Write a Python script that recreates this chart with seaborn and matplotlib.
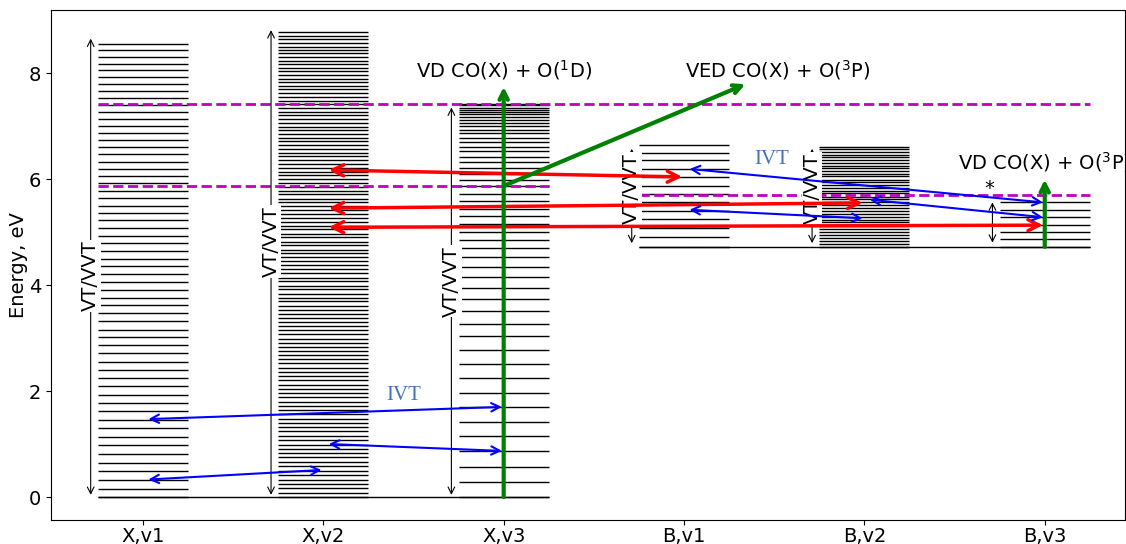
import matplotlib
matplotlib.use("Agg")
import matplotlib.pyplot as plt
import pandas as pd
import seaborn as sns

# x categories (vibrational modes of the X and B states)
modes = ["X,v1", "X,v2", "X,v3", "B,v1", "B,v2", "B,v3"]

# vibrational level energies, eV
x_v1 = [0.00, 0.16, 0.33, 0.49, 0.65, 0.82, 0.98, 1.14, 1.30, 1.46,
        1.62, 1.77, 1.93, 2.09, 2.24, 2.40, 2.55, 2.71, 2.86, 3.01,
        3.16, 3.32, 3.47, 3.62, 3.76, 3.91, 4.06, 4.21, 4.35, 4.50,
        4.64, 4.79, 4.93, 5.07, 5.22, 5.36, 5.50, 5.64, 5.78, 5.92,
        6.06, 6.19, 6.33, 6.47, 6.60, 6.74, 6.87, 7.00, 7.14, 7.27,
        7.40, 7.53, 7.66, 7.79, 7.92, 8.05, 8.17, 8.30, 8.43, 8.55]
x_v2 = [0.00, 0.08, 0.17, 0.25, 0.33, 0.42, 0.50, 0.58, 0.66, 0.75,
        0.83, 0.91, 0.99, 1.07, 1.15, 1.24, 1.32, 1.40, 1.48, 1.56,
        1.64, 1.72, 1.80, 1.88, 1.96, 2.04, 2.12, 2.20, 2.28, 2.36,
        2.44, 2.52, 2.60, 2.68, 2.75, 2.83, 2.91, 2.99, 3.07, 3.15,
        3.22, 3.30, 3.38, 3.46, 3.53, 3.61, 3.69, 3.76, 3.84, 3.92,
        3.99, 4.07, 4.14, 4.22, 4.30, 4.37, 4.45, 4.52, 4.60, 4.67,
        4.75, 4.82, 4.90, 4.97, 5.05, 5.12, 5.19, 5.27, 5.34, 5.41,
        5.49, 5.56, 5.63, 5.71, 5.78, 5.85, 5.92, 6.00, 6.07, 6.14,
        6.21, 6.28, 6.36, 6.43, 6.50, 6.57, 6.64, 6.71, 6.78, 6.85,
        6.92, 6.99, 7.06, 7.13, 7.20, 7.27, 7.34, 7.41, 7.48, 7.55,
        7.62, 7.69, 7.76, 7.83, 7.89, 7.96, 8.03, 8.10, 8.17, 8.23,
        8.30, 8.37, 8.44, 8.50, 8.57, 8.64, 8.70, 8.77]
x_v3 = [0.00, 0.29, 0.57, 0.86, 1.15, 1.42, 1.70, 1.97, 2.25, 2.51,
        2.77, 3.03, 3.27, 3.51, 3.74, 3.95, 4.15, 4.34, 4.52, 4.69,
        4.85, 5.01, 5.16, 5.30, 5.44, 5.58, 5.72, 5.86, 5.98, 6.10,
        6.21, 6.32, 6.42, 6.52, 6.61, 6.70, 6.78, 6.86, 6.93, 7.00,
        7.06, 7.12, 7.18, 7.23, 7.27, 7.31, 7.35, 7.39, 7.42]
b_v1 = [4.72, 4.90, 5.07, 5.24, 5.40, 5.56, 5.72, 5.87, 6.03, 6.19,
        6.35, 6.50, 6.64]
b_v2 = [4.72, 4.78, 4.84, 4.89, 4.95, 5.01, 5.06, 5.12, 5.18, 5.23,
        5.29, 5.34, 5.40, 5.45, 5.51, 5.56, 5.62, 5.67, 5.73, 5.78,
        5.83, 5.89, 5.94, 5.99, 6.05, 6.10, 6.15, 6.20, 6.25, 6.31,
        6.36, 6.41, 6.46, 6.51, 6.56, 6.61]
b_v3 = [4.72, 4.86, 5.00, 5.14, 5.28, 5.42, 5.56]

# dissociation thresholds, eV
diss_x_low = 5.86
diss_x_high = 7.42
diss_b = 5.69

# VT/VVT ranges: mode, bottom, top, label centre (eV)
vt_modes = ["X,v1", "X,v2", "X,v3", "B,v1", "B,v2", "B,v3"]
vt_bottom = [0.04, 0.04, 0.04, 4.79, 4.79, 4.80]
vt_top = [8.65, 8.81, 7.35, 6.57, 6.57, 5.56]
vt_label_e = [4.17, 4.82, 4.07, 5.82, 5.82, None]

# resonant X-B transitions (red) and intermode IVT (blue): from, E, to, E
red_pairs = [("X,v2", 6.17, "B,v1", 6.04),
             ("X,v2", 5.45, "B,v2", 5.55),
             ("X,v2", 5.09, "B,v3", 5.13)]
blue_pairs = [("X,v1", 1.47, "X,v3", 1.70),
              ("X,v1", 0.33, "X,v2", 0.51),
              ("X,v2", 1.00, "X,v3", 0.87),
              ("B,v1", 6.19, "B,v3", 5.56),
              ("B,v1", 5.42, "B,v2", 5.26),
              ("B,v2", 5.61, "B,v3", 5.28)]

# dissociation channels (green)
vd_modes = ["X,v3", "B,v3"]
vd_start = [0.0, 4.72]
vd_end = [7.74, 5.99]
vd_labels = ["VD CO(X) + O($^1$D)", "VD CO(X) + O($^3$P)"]
vd_label_e = [8.06, 6.32]
ved_start = 5.87
ved_end = 7.79
ved_end_x = 3.34
ved_label = "VED CO(X) + O($^3$P)"

sns.set_style("ticks", rc={"axes.edgecolor": "black", "xtick.color": "black",
                           "ytick.color": "black", "text.color": "black",
                           "axes.labelcolor": "black"})
plt.rcParams["font.family"] = ["DejaVu Sans"]

fig = plt.figure(figsize=(11.26, 5.44), dpi=100)
ax = fig.add_axes([51 / 1126, 24 / 544, 1074 / 1126, 510 / 544])

pos = {m: i for i, m in enumerate(modes)}

# ladders
rows = []
for m, lev in zip(modes, [x_v1, x_v2, x_v3, b_v1, b_v2, b_v3]):
    for e in lev:
        rows.append({"mode": m, "x": pos[m], "energy": e})
df = pd.DataFrame(rows)
half = 0.25
ax.hlines(df["energy"], df["x"] - half, df["x"] + half, colors="black", lw=1)
ax.hlines(0, -half, 2 + half, colors="black", lw=1)
ax.hlines(b_v1[0], 3 - half, 5 + half, colors="black", lw=1)

# dissociation limits
ax.hlines(diss_x_high, -half, 5 + half, colors="m", linestyles="--", lw=2)
ax.hlines(diss_x_low, -half, 2 + half, colors="m", linestyles="--", lw=2)
ax.hlines(diss_b, 3 - half, 5 + half, colors="m", linestyles="--", lw=2)

# VT/VVT arrows
for m, lo, hi, le in zip(vt_modes, vt_bottom, vt_top, vt_label_e):
    xa = pos[m] - 0.29
    ax.annotate("", xy=(xa, hi), xytext=(xa, lo),
                arrowprops=dict(arrowstyle="<->", color="black", lw=0.8,
                                shrinkA=0, shrinkB=0, mutation_scale=12))
    if le is not None:
        ax.text(xa, le, "VT/VVT", rotation=90, ha="center", va="center",
                fontsize=14, bbox=dict(fc="white", ec="none", pad=0.5))


def double_arrow(a, ea, b, eb, color, lw, ms):
    ax.annotate("", xy=(pos[b] - 0.01, eb), xytext=(pos[a] + 0.03, ea),
                arrowprops=dict(arrowstyle="<->", color=color, lw=lw,
                                shrinkA=0, shrinkB=0, mutation_scale=ms),
                zorder=4)


for a, ea, b, eb in red_pairs:
    double_arrow(a, ea, b, eb, "red", 2.5, 20)
for a, ea, b, eb in blue_pairs:
    double_arrow(a, ea, b, eb, "blue", 1.5, 15)

ivt_color = "#4572b5"
ax.text(1.447, 1.91, "IVT", color=ivt_color, fontsize=15,
        family="Liberation Serif", ha="center", va="center")
ax.text(3.487, 6.36, "IVT", color=ivt_color, fontsize=15,
        family="Liberation Serif", ha="center", va="center")

# dissociation arrows
for m, e0, e1, lab, le in zip(vd_modes, vd_start, vd_end, vd_labels, vd_label_e):
    ax.annotate("", xy=(pos[m], e1), xytext=(pos[m], e0),
                arrowprops=dict(arrowstyle="->", color="green", lw=3,
                                shrinkA=0, shrinkB=0, mutation_scale=15),
                zorder=5)
    ax.text(pos[m], le, lab, ha="center", va="center", fontsize=14)
ax.annotate("", xy=(ved_end_x, ved_end), xytext=(pos["X,v3"], ved_start),
            arrowprops=dict(arrowstyle="->", color="green", lw=3,
                            shrinkA=0, shrinkB=0, mutation_scale=15),
            zorder=5)
ax.text(3.52, 8.06, ved_label, ha="center", va="center", fontsize=14)
ax.text(4.695, 5.82, "*", ha="center", va="center", fontsize=14)

ax.set_xlim(-0.51, 5.445)
ax.set_ylim(-0.434, 9.19)
ax.set_xticks(range(len(modes)))
ax.set_xticklabels(modes)
ax.set_yticks([0, 2, 4, 6, 8])
ax.tick_params(labelsize=14)
ax.tick_params(axis="x", pad=1.3)
ax.set_ylabel("Energy, eV", fontsize=14, labelpad=0.5)

fig.savefig("out.png", dpi=100)
